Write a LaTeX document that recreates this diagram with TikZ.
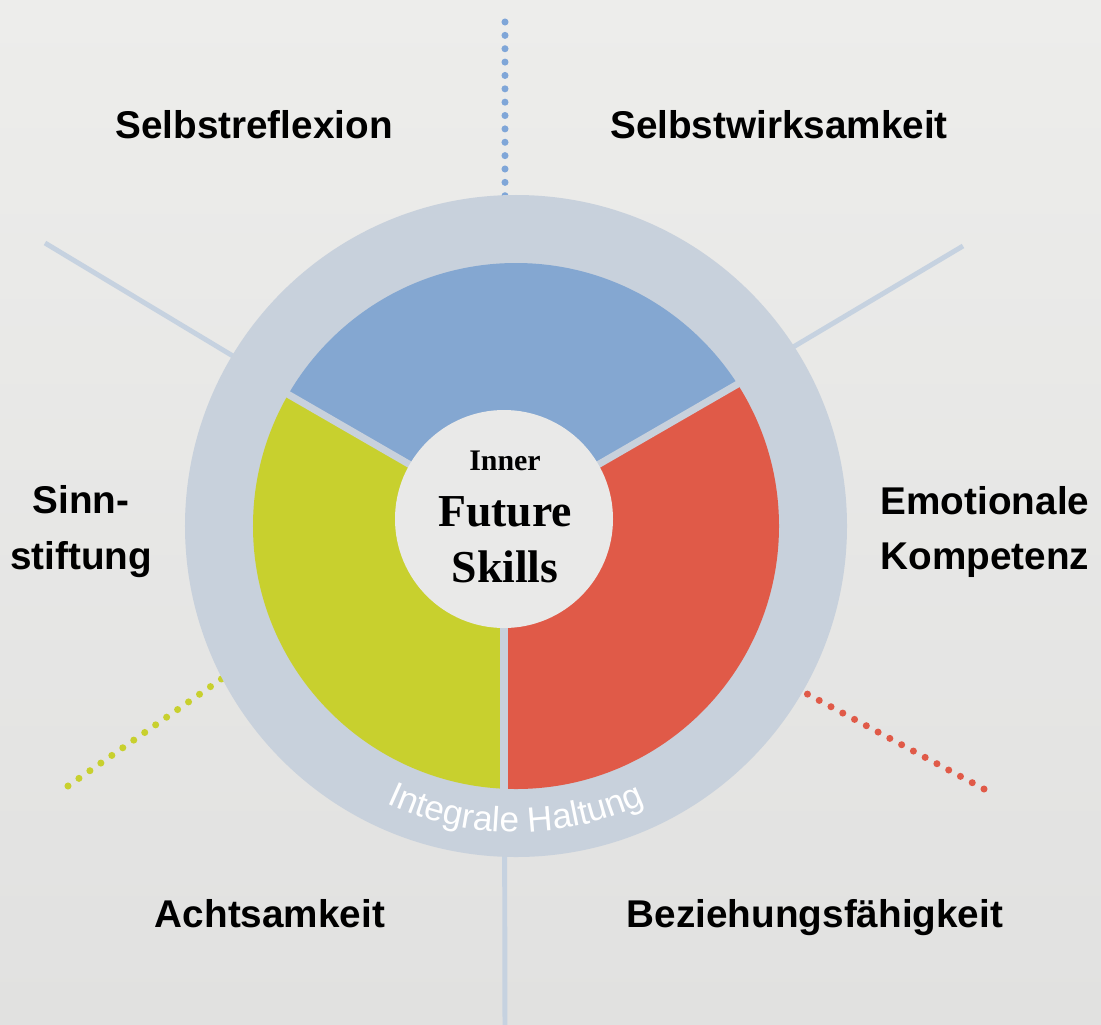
\documentclass[tikz,border=0pt]{standalone}
\usepackage{fontspec}
\setmainfont{Liberation Sans}
\newfontfamily\CoreFont{Liberation Serif}
\usetikzlibrary{decorations.text}
\definecolor{BgTop}{HTML}{EDEDEB}
\definecolor{BgBottom}{HTML}{E1E1E0}
\definecolor{RingGray}{HTML}{C8D1DC}
\definecolor{RayGray}{HTML}{C6D2E0}
\definecolor{SegBlue}{HTML}{84A7D1}
\definecolor{SegRed}{HTML}{E05A48}
\definecolor{SegYellow}{HTML}{C8D02E}
\definecolor{CoreFill}{HTML}{E9E9E8}
\definecolor{DotBlue}{HTML}{7FA6D8}
\tikzset{
Skill/.style={font=\fontsize{11pt}{15.9pt}\selectfont\bfseries,align=center,inner sep=0pt},
Ray/.style={draw=RayGray,line width=1.4pt},
DotRay/.style={line width=2pt,line cap=round,dash pattern=on 0pt off 3.8pt},
Divider/.style={draw=RingGray,line width=2pt}
}

\begin{document}
\begin{tikzpicture}[x=0.01cm,y=0.01cm]
	\useasboundingbox (-504,-505) rectangle (597,519);
	\shade[top color=BgTop,bottom color=BgBottom] (-504,-505) rectangle (597,519);
	
	\coordinate (Core) at (0,0);
	\coordinate (RingCenter) at (12,-7);
	
	\begin{scope}% Rays
		\coordinate (RayNW) at (-459,276);
		\coordinate (RayNE) at (459,273);
		\coordinate (RayS) at (1,-520);
		\coordinate (DotTopStart) at (1,300);
		\coordinate (DotTop) at (1,497);
		\coordinate (DotLeftStart) at (-274,-154);
		\coordinate (DotLeft) at (-436,-267);
		\coordinate (DotRightStart) at (294,-170);
		\coordinate (DotRight) at (480,-270);
		
		\draw[Ray] (Core) -- (RayNW);
		\draw[Ray] (Core) -- (RayNE);
		\draw[Ray] (Core) -- (RayS);
		\draw[DotRay,DotBlue] (DotTop) -- (DotTopStart);
		\draw[DotRay,SegYellow] (DotLeft) -- (DotLeftStart);
		\draw[DotRay,SegRed] (DotRight) -- (DotRightStart);
	\end{scope}
	
	\fill[RingGray] (RingCenter) circle (331);
	\begin{scope}% Segments
		\clip (RingCenter) circle (263);
		\fill[SegBlue] (Core) -- (30:400) arc (30:150:400) -- cycle;
		\fill[SegRed] (Core) -- (-90:400) arc (-90:30:400) -- cycle;
		\fill[SegYellow] (Core) -- (150:400) arc (150:270:400) -- cycle;
	\end{scope}
	\foreach \a in {30,150,270}
		\draw[Divider] (Core) -- (\a:290);
	\fill[CoreFill] (Core) circle (109);
	
	\path[shift={(RingCenter)},decorate,decoration={text along path,text align=center,text color=white,
		text={|\fontsize{10pt}{12pt}\selectfont|Integrale Haltung}}]
		(200:306) arc (200:340:306);
	
	\node[align=center,inner sep=0pt,font=\CoreFont\bfseries\fontsize{13pt}{15.9pt}\selectfont] (InnerFutureSkills) at (1,2)
		{{\fontsize{8.5pt}{15.9pt}\selectfont Inner}\\Future\\Skills};
	
	\node[Skill,anchor=base] (Selbstreflexion) at (-250,380) {Selbstreflexion};
	\node[Skill,anchor=base] (Selbstwirksamkeit) at (275,380) {Selbstwirksamkeit};
	\node[Skill] (Sinnstiftung) at (-423,-13) {Sinn-\\stiftung};
	\node[Skill] (EmotionaleKompetenz) at (481,-13) {Emotionale\\Kompetenz};
	\node[Skill,anchor=base] (Achtsamkeit) at (-234,-408) {Achtsamkeit};
	\node[Skill,anchor=base] (Beziehungsfaehigkeit) at (311,-408) {Beziehungsfähigkeit};
\end{tikzpicture}
\end{document}
